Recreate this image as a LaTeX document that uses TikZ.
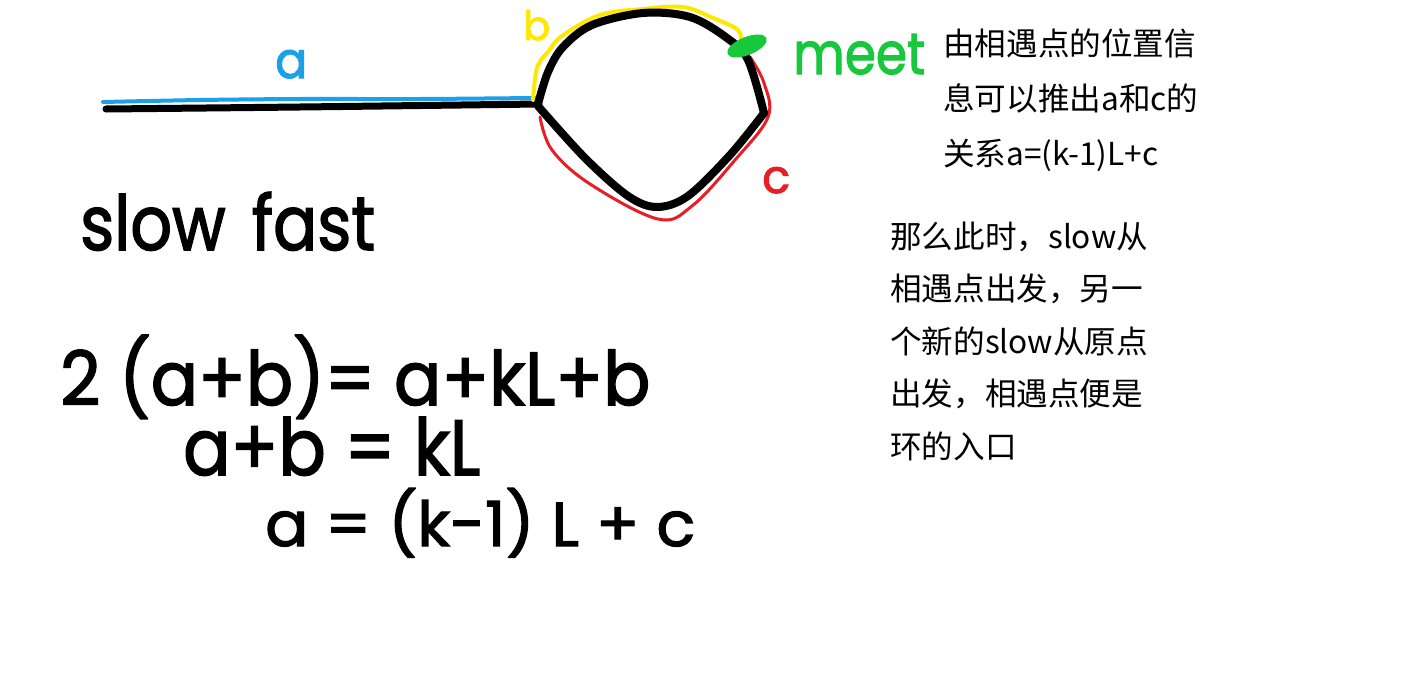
\documentclass[tikz,border=0pt]{standalone}
\usepackage{fontspec}
\newfontfamily\cjk{Noto Sans CJK SC}
\newfontfamily\hand[FakeBold=2]{Poppins}
\definecolor{hblue}{RGB}{28,160,232}
\definecolor{hyellow}{RGB}{255,232,0}
\definecolor{hred}{RGB}{230,30,38}
\definecolor{hgreen}{RGB}{24,200,60}
\tikzset{
  stroke/.style={line cap=round, line join=round},
  hw/.style={inner sep=0pt, anchor=base west, font=\hand},
  cjktext/.style={inner sep=0pt, anchor=base west, font=\cjk\fontsize{31.6}{31.6}\selectfont},
}
\begin{document}
\begin{tikzpicture}[x=1pt,y=-1pt]
\useasboundingbox (0,0) rectangle (1416,672);
\fill[white] (0,0) rectangle (1416,672);

% tail a
\draw[stroke, hblue, line width=4] plot[smooth] coordinates {(103,102) (200,100) (300,99) (420,99) (535,98)};
\draw[stroke, black, line width=7] plot[smooth] coordinates {(106,109) (300,107) (539,104)};

% yellow b segment
\draw[stroke, hyellow, line width=4] plot[smooth, tension=0.6] coordinates {(533,100) (536,72) (541,60) (548,52) (562,36) (600,15) (643,9) (683,7) (713,18) (738,30) (741,44)};
% red c segment
\draw[stroke, hred, line width=3] plot[smooth, tension=0.6] coordinates {(540,117) (552,150) (590,184) (658,219) (692,206) (735,160) (768,117) (764,83) (750,57)};

% loop
\draw[stroke, black, line width=8] plot[smooth, tension=0.55] coordinates {(538,104) (548,72) (563,47) (592,25) (643,13) (690,17) (727,38) (748,60) (764,113)};
\draw[stroke, black, line width=8] plot[smooth, tension=0.55] coordinates {(764,113) (730,155) (688,196) (657,207) (628,196) (585,158) (538,106)};

% meet point
\fill[hgreen, rotate around={22:(747,46)}] (747,46) ellipse [x radius=21, y radius=9];

% labels
\node[hw, text=hblue] (la) at (275,78) {\resizebox{32pt}{28pt}{a}};
\node[hw, text=hyellow] (lb) at (523,40) {\resizebox{27pt}{30pt}{b}};
\node[hw, text=hred] (lc) at (762,193) {\resizebox{28pt}{26pt}{c}};
\node[hw, text=hgreen] (lmeet) at (793,74) {\resizebox{132pt}{40pt}{meet}};

\node[hw] (sf) at (80,250) {\resizebox{295pt}{58pt}{slow\hspace{0.4em}fast}};
\node[hw] (eq1) at (60,405) {\resizebox{590pt}{70pt}{2 (a+b)= a+kL+b}};
\node[hw] (eq2) at (183,475) {\resizebox{297pt}{58pt}{a+b = kL}};
\node[hw] (eq3) at (265,546) {\resizebox{430pt}{58pt}{a = (k-1) L + c}};

% right text
\node[cjktext] (r1) at (943,55) {由相遇点的位置信};
\node[cjktext] (r2) at (943,110) {息可以推出a和c的};
\node[cjktext] (r3) at (943,165) {关系a=(k-1)L+c};

\node[cjktext] (s1) at (890,248) {那么此时，slow从};
\node[cjktext] (s2) at (890,300.5) {相遇点出发，另一};
\node[cjktext] (s3) at (890,353) {个新的slow从原点};
\node[cjktext] (s4) at (890,405.5) {出发，相遇点便是};
\node[cjktext] (s5) at (890,458) {环的入口};
\end{tikzpicture}
\end{document}
